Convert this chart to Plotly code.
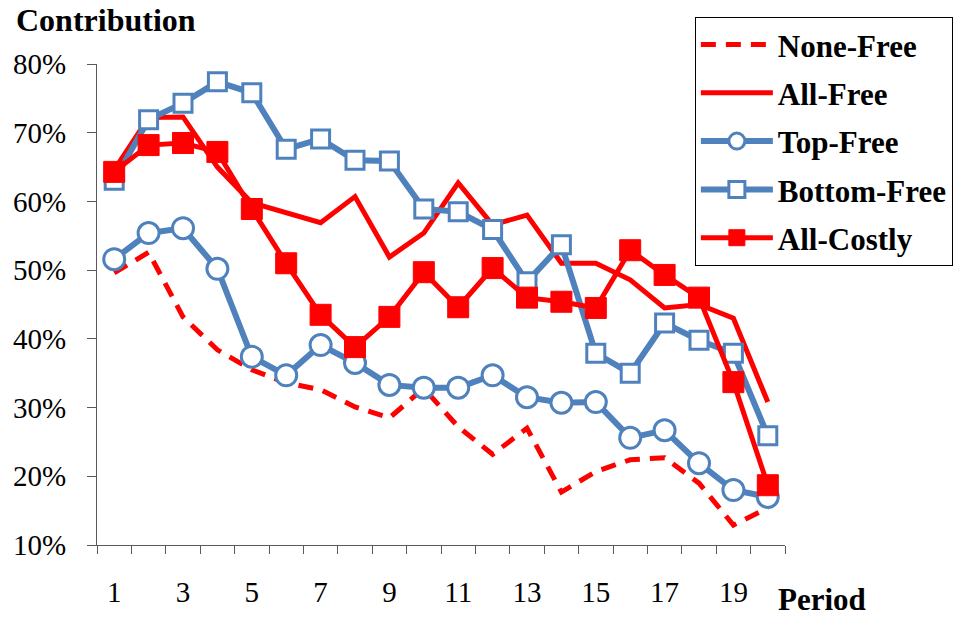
import plotly.graph_objects as go

periods = list(range(1, 21))
none_free = [49.6, 52.6, 43.2, 38.4, 35.5, 33.6, 32.6, 30.1, 28.5, 32.8, 27.2, 23.2, 27.0, 17.7, 20.7, 22.4, 22.7, 19.0, 12.9, 15.4]
all_free = [64.6, 72.2, 72.3, 65.0, 59.8, 58.3, 56.9, 60.7, 51.9, 55.4, 62.7, 56.6, 58.0, 51.0, 51.0, 48.6, 44.5, 45.0, 43.0, 30.8]
top_free = [51.6, 55.4, 56.1, 50.2, 37.4, 34.7, 39.1, 36.5, 33.3, 32.9, 32.9, 34.7, 31.5, 30.7, 30.8, 25.6, 26.7, 21.9, 18.0, 17.0]
bottom_free = [63.1, 71.9, 74.3, 77.4, 75.8, 67.6, 69.1, 66.0, 65.9, 58.9, 58.5, 55.9, 48.3, 53.7, 37.9, 35.0, 42.3, 39.8, 37.9, 25.9]
all_costly = [64.3, 68.2, 68.5, 67.2, 58.9, 51.0, 43.5, 38.8, 43.2, 49.7, 44.6, 50.3, 46.0, 45.4, 44.5, 52.9, 49.3, 46.0, 33.7, 18.7]

y_ticks = [10, 20, 30, 40, 50, 60, 70, 80]
x_labels = [1, 3, 5, 7, 9, 11, 13, 15, 17, 19]

RED = "#FF0000"
BLUE = "#4F81BD"
AXIS = "#595959"
FONT = "Liberation Serif"

fig = go.Figure()
fig.add_trace(go.Scatter(x=periods, y=none_free, name="None-Free", mode="lines", legendgroup="a",
                         line=dict(color=RED, width=5, dash="15px,10px")))
fig.add_trace(go.Scatter(x=periods, y=all_free, name="All-Free", mode="lines", legendgroup="b",
                         line=dict(color=RED, width=5)))
fig.add_trace(go.Scatter(x=periods, y=top_free, name="Top-Free", mode="lines+markers", legendgroup="c",
                         line=dict(color=BLUE, width=6),
                         marker=dict(symbol="circle", size=21, color="white",
                                     line=dict(color=BLUE, width=3))))
fig.add_trace(go.Scatter(x=periods, y=bottom_free, name="Bottom-Free", mode="lines+markers", legendgroup="d",
                         line=dict(color=BLUE, width=6),
                         marker=dict(symbol="square", size=18, color="white",
                                     line=dict(color=BLUE, width=3))))
fig.add_trace(go.Scatter(x=periods, y=all_costly, name="All-Costly", mode="lines+markers", legendgroup="e",
                         line=dict(color=RED, width=5),
                         marker=dict(symbol="square", size=21, color=RED,
                                     line=dict(color=RED, width=1))))

fig.update_layout(
    width=956, height=617,
    margin=dict(l=97, r=171, t=64, b=72, autoexpand=False),
    paper_bgcolor="white", plot_bgcolor="white",
    font=dict(family=FONT, size=29, color="black"),
    showlegend=True,
    legend=dict(x=0.869, xanchor="left", y=1.098, yanchor="top",
                xref="paper", yref="paper",
                bordercolor="black", borderwidth=1, bgcolor="white",
                font=dict(family=FONT, size=31, color="black", weight="bold"),
                itemwidth=72, traceorder="grouped", tracegroupgap=5),
    xaxis=dict(range=[0.5, 20.5], tickvals=x_labels, ticktext=[str(v) for v in x_labels],
               ticks="", showgrid=False, zeroline=False,
               showline=True, linecolor=AXIS, linewidth=1,
               tickfont=dict(family=FONT, size=29, color="black"),
               minor=dict(tickvals=[i + 0.5 for i in range(0, 21)], ticks="outside",
                          ticklen=8, tickcolor=AXIS, tickwidth=1),
               ticklabelstandoff=21),
    yaxis=dict(range=[10, 80], tickvals=y_ticks, ticktext=[f"{v}%" for v in y_ticks],
               ticks="outside", ticklen=9, tickcolor=AXIS,
               showgrid=False, zeroline=False,
               showline=True, linecolor=AXIS, linewidth=1,
               ticklabelstandoff=15,
               tickfont=dict(family=FONT, size=29, color="black")),
    annotations=[
        dict(text="<b>Contribution</b>", xref="paper", yref="paper", x=-0.121, y=1.091,
             xanchor="left", yanchor="middle", showarrow=False,
             font=dict(family=FONT, size=32, color="black")),
        dict(text="<b>Period</b>", xref="paper", yref="paper", x=1.054, y=-0.114,
             xanchor="center", yanchor="middle", showarrow=False,
             font=dict(family=FONT, size=31, color="black")),
    ],
)

fig.write_html("out.html", config={"displayModeBar": False})

# remove the default 8px page margin so the figure fills the window exactly
with open("out.html", "r", encoding="utf-8") as f:
    html = f.read()
html = html.replace("<body>", '<body style="margin:0;padding:0;overflow:hidden">', 1)
with open("out.html", "w", encoding="utf-8") as f:
    f.write(html)
